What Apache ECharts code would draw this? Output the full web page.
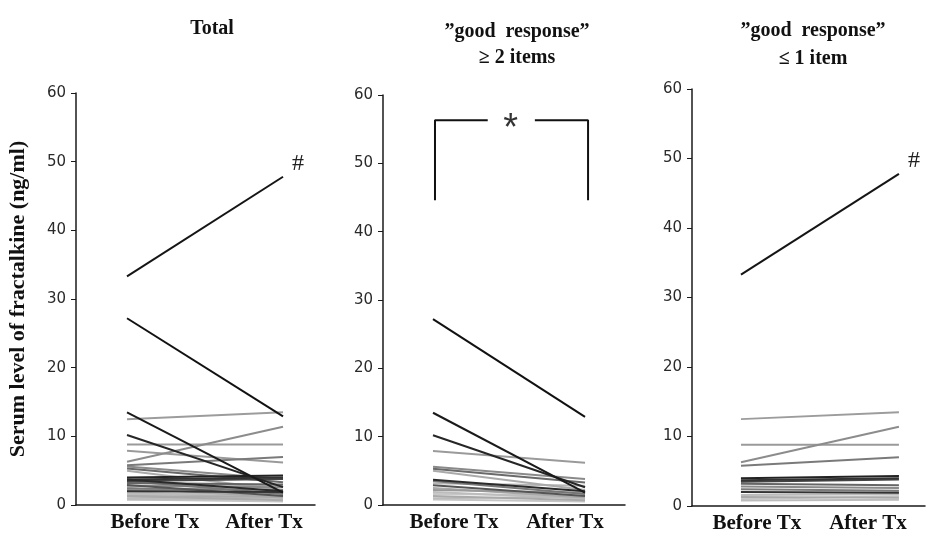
<!DOCTYPE html>
<html>
<head>
<meta charset="utf-8">
<script src="https://cdn.jsdelivr.net/npm/echarts@6/dist/echarts.min.js"></script>
<style>
  html, body { margin: 0; padding: 0; background: #fff; }
  #chart { width: 926px; height: 536px; }
</style>
</head>
<body>
<div id="chart"></div>
<script>
// Serum fractalkine (ng/ml) per patient, before and after treatment
const categories = ['Before Tx', 'After Tx'];

// patients with "good response" in >= 2 items
const goodBefore = [27.2, 13.5, 10.2, 7.9, 5.6, 5.3, 5.0, 3.7, 3.5, 3.2, 2.9, 2.5, 2.2, 1.9, 1.6, 1.3, 1.0, 0.8];
const goodAfter  = [12.9, 1.8, 2.6, 6.2, 3.8, 3.3, 2.2, 2.0, 1.6, 2.8, 1.3, 1.1, 1.8, 0.9, 1.4, 0.7, 1.2, 0.5];

// patients with "good response" in <= 1 item
const poorBefore = [33.3, 12.5, 8.8, 6.3, 5.8, 4.0, 3.7, 3.5, 3.2, 2.8, 2.4, 2.0, 1.6, 1.3, 1.0, 0.8];
const poorAfter  = [47.8, 13.5, 8.8, 11.4, 7.0, 4.3, 4.0, 3.8, 3.0, 2.6, 2.2, 1.9, 1.7, 1.2, 1.4, 0.9];

const yTicks = [0, 10, 20, 30, 40, 50, 60];
const panelTitles = ['Total', '\u201Dgood  response\u201D\n\u2265 2 items', '\u201Dgood  response\u201D\n\u2264 1 item'];
const yTitle = 'Serum level of fractalkine (ng/ml)';

// significance bracket for the ">= 2 items" panel
const bracketTop = 56.3;
const bracketBottom = 44.6;

// line shades (style only)
const goodShades = ['#111', '#1a1a1a', '#262626', '#9a9a9a', '#8a8a8a', '#6a6a6a', '#aaaaaa', '#2a2a2a', '#777', '#b5b5b5', '#555', '#a8a8a8', '#999', '#bdbdbd', '#c8c8c8', '#aaa', '#bbb', '#c5c5c5'];
const poorShades = ['#151515', '#9c9c9c', '#9a9a9a', '#8c8c8c', '#7a7a7a', '#222', '#333', '#444', '#666', '#8a8a8a', '#7a7a7a', '#333', '#bbb', '#aaa', '#c8c8c8', '#bcbcbc'];

const panels = [
  { before: goodBefore.concat(poorBefore), after: goodAfter.concat(poorAfter), shades: goodShades.concat(poorShades), hash: true },
  { before: goodBefore, after: goodAfter, shades: goodShades, hash: false },
  { before: poorBefore, after: poorAfter, shades: poorShades, hash: true }
];

// layout
const grids = [
  { left: 76, top: 93, width: 239, height: 412 },
  { left: 383, top: 95, width: 242, height: 410 },
  { left: 692, top: 89, width: 233, height: 417 }
];
const xMin = [-0.327, -0.329, -0.310];
const xMax = [1.205, 1.263, 1.165];
const xLabelPos = [[0.179, 0.878], [0.138, 0.868], [0.101, 0.804]];
const titlePos = [
  { left: 207, top: 11, lineHeight: 26 },
  { left: 512, top: 14, lineHeight: 26 },
  { left: 808, top: 12, lineHeight: 28 }
];

const serif = "'Liberation Serif', 'Times New Roman', serif";
const sans = "'DejaVu Sans', Verdana, sans-serif";

const xAxes = grids.map((g, i) => ({
  type: 'value',
  gridIndex: i,
  min: xMin[i],
  max: xMax[i],
  axisLine: { show: true, onZero: false, lineStyle: { color: '#1a1a1a', width: 1.5 } },
  axisTick: { show: false },
  splitLine: { show: false },
  axisLabel: {
    customValues: xLabelPos[i],
    formatter: v => (v < 0.5 ? categories[0] : categories[1]),
    margin: 7,
    fontFamily: serif,
    fontWeight: 'bold',
    fontSize: 21,
    color: '#111'
  }
}));

const yAxes = grids.map((g, i) => ({
  type: 'value',
  gridIndex: i,
  min: yTicks[0],
  max: yTicks[yTicks.length - 1],
  interval: 10,
  name: i === 0 ? yTitle : '',
  nameLocation: 'middle',
  nameGap: 47,
  nameRotate: 90,
  nameTextStyle: { fontFamily: serif, fontWeight: 'bold', fontSize: 22, color: '#111' },
  axisLine: { show: true, onZero: false, lineStyle: { color: '#1a1a1a', width: 1.5 } },
  axisTick: { show: true, length: 5, lineStyle: { color: '#1a1a1a', width: 1 } },
  splitLine: { show: false },
  axisLabel: { margin: 10, fontFamily: sans, fontSize: 15, color: '#2a2a2a' }
}));

const series = [];
panels.forEach((p, pi) => {
  // draw lighter lines first so the darker ones sit on top
  const order = p.before.map((_, k) => k).sort((a, b) => p.shades[b].localeCompare(p.shades[a]));
  const topIdx = p.after.indexOf(Math.max(...p.after));
  order.forEach(k => {
    const s = {
      type: 'line',
      xAxisIndex: pi,
      yAxisIndex: pi,
      data: [[0, p.before[k]], [1, p.after[k]]],
      symbol: 'none',
      silent: true,
      animation: false,
      lineStyle: { color: p.shades[k], width: 2 }
    };
    if (p.hash && k === topIdx) {
      s.endLabel = {
        show: true, formatter: '#', distance: 9, offset: [0, -13],
        fontFamily: serif, fontSize: 24, color: '#222'
      };
    }
    series.push(s);
  });
});

// bracket with asterisk between Before and After in the middle panel
series.push({
  type: 'line', xAxisIndex: 1, yAxisIndex: 1, symbol: 'none', silent: true, animation: false,
  data: [[0.013, bracketBottom], [0.013, bracketTop], [0.36, bracketTop]],
  lineStyle: { color: '#111', width: 2 }
});
series.push({
  type: 'line', xAxisIndex: 1, yAxisIndex: 1, symbol: 'none', silent: true, animation: false,
  data: [[0.67, bracketTop], [1.02, bracketTop], [1.02, bracketBottom]],
  lineStyle: { color: '#111', width: 2 }
});
series.push({
  type: 'scatter', xAxisIndex: 1, yAxisIndex: 1, symbolSize: 1, silent: true, animation: false,
  itemStyle: { color: 'rgba(0,0,0,0)' },
  data: [[0.51, bracketTop]],
  label: { show: true, formatter: '*', position: 'inside', offset: [0, 9], fontFamily: "'Liberation Sans', Arial, sans-serif", fontSize: 38, color: '#000' }
});

const chart = echarts.init(document.getElementById('chart'), null, { renderer: 'canvas' });
chart.setOption({
  backgroundColor: '#fff',
  animation: false,
  title: panelTitles.map((t, i) => ({
    text: t,
    left: titlePos[i].left,
    top: titlePos[i].top,
    textAlign: 'center',
    textStyle: { fontFamily: serif, fontWeight: 'bold', fontSize: 20, color: '#111', lineHeight: titlePos[i].lineHeight }
  })),
  grid: grids,
  xAxis: xAxes,
  yAxis: yAxes,
  series: series
});
</script>
</body>
</html>
